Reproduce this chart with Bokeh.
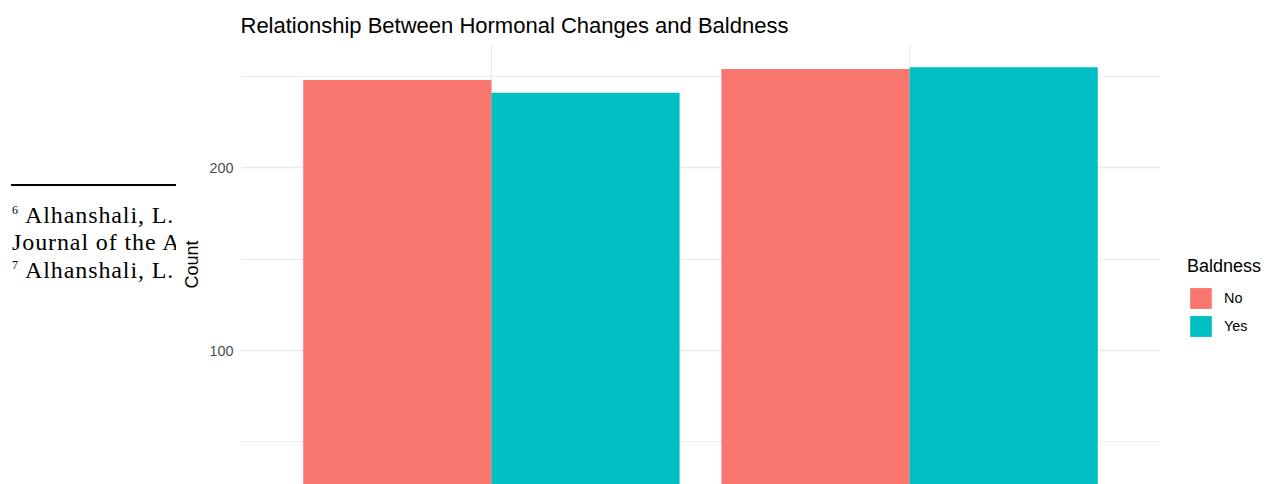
from bokeh.plotting import figure
from bokeh.layouts import row
from bokeh.models import (ColumnDataSource, Range1d, FixedTicker, Legend,
                          LegendItem, Div, BoxAnnotation)
from bokeh.transform import dodge
from bokeh.embed import file_html
from bokeh.resources import INLINE

# ---- data ----
hormonal = ["No", "Yes"]           # Hormonal changes (x categories)
baldness_no = [248, 254]           # Baldness = No
baldness_yes = [241, 255]          # Baldness = Yes
y_ticks = [0, 100, 200]
y_minor = [50, 150, 250]
footnotes = ["Alhanshali, L.", "Journal of the A", "Alhanshali, L."]
footnote_marks = ["6", "7"]

RED = "#F8766D"
TEAL = "#00BFC4"

# ---- background document (footnotes partly covered by the chart) ----
serif = "font-family:'Liberation Serif',serif;color:#000;white-space:nowrap;position:absolute;"
line_style = serif + "font-size:24px;line-height:24px;letter-spacing:0.9px;"
mark_style = serif + "font-size:12px;line-height:12px;"
doc_html = (
    "<div style='position:relative;width:176px;height:484px;overflow:hidden;background:#fff;'>"
    "<div style='position:absolute;left:11px;top:183.5px;width:166px;height:2px;background:#000;'></div>"
    f"<div style=\"{mark_style}left:12px;top:204.2px;\">{footnote_marks[0]}</div>"
    f"<div style=\"{line_style}left:25px;top:202.6px;\">{footnotes[0]}</div>"
    f"<div style=\"{line_style}left:12px;top:229.9px;\">{footnotes[1]}</div>"
    f"<div style=\"{mark_style}left:12px;top:259.2px;\">{footnote_marks[1]}</div>"
    f"<div style=\"{line_style}left:25px;top:257.6px;\">{footnotes[2]}</div>"
    "</div>"
)
doc = Div(text=doc_html, width=176, height=484, margin=0)

# ---- chart ----
x_pos = [i + 1 for i in range(len(hormonal))]   # category positions
src = ColumnDataSource(dict(x=x_pos, hormonal=hormonal,
                            no=baldness_no, yes=baldness_yes))

# panel spans the categories with ggplot's 0.6 expansion; the frame extends to
# the right edge so the legend can sit in it
p = figure(width=1096, height=484, output_backend="svg", toolbar_location=None,
           x_range=Range1d(0.4, 2.8678), y_range=Range1d(26.7, 267.4),
           min_border_left=64, min_border_right=0, min_border_top=44,
           min_border_bottom=0,
           title="Relationship Between Hormonal Changes and Baldness")

r_no = p.vbar(x=dodge("x", -0.225), top="no", bottom=0,
              width=0.45, source=src, fill_color=RED, line_color=None)
r_yes = p.vbar(x=dodge("x", 0.225), top="yes", bottom=0,
               width=0.45, source=src, fill_color=TEAL, line_color=None)

p.outline_line_color = None
p.background_fill_color = "white"
p.border_fill_color = "white"

# title
p.title.text_font = "Liberation Sans"
p.title.text_font_size = "22px"
p.title.text_font_style = "normal"
p.title.text_color = "#000000"
p.title.align = "left"
p.title.offset = 0
p.title.standoff = 14

# axes
p.xaxis.visible = False
p.xaxis.ticker = FixedTicker(ticks=x_pos)
p.yaxis.ticker = FixedTicker(ticks=y_ticks, minor_ticks=y_minor)
p.yaxis.axis_line_color = None
p.yaxis.major_tick_line_color = None
p.yaxis.minor_tick_line_color = None
p.yaxis.major_tick_out = 0
p.yaxis.minor_tick_out = 0
p.yaxis.major_label_standoff = 7
p.yaxis.major_label_text_font = "Liberation Sans"
p.yaxis.major_label_text_font_size = "14.4px"
p.yaxis.major_label_text_color = "#4D4D4D"
p.yaxis.axis_label = "Count"
p.yaxis.axis_label_text_font = "Liberation Sans"
p.yaxis.axis_label_text_font_size = "18px"
p.yaxis.axis_label_text_font_style = "normal"
p.yaxis.axis_label_text_color = "#000000"
p.yaxis.axis_label_standoff = 4

# grids
p.xgrid.ticker = FixedTicker(ticks=x_pos)
p.xgrid.grid_line_color = "#EBEBEB"
p.xgrid.grid_line_width = 1.3
p.ygrid.grid_line_color = "#EBEBEB"
p.ygrid.grid_line_width = 1.3
p.ygrid.minor_grid_line_color = "#EEEEEE"
p.ygrid.minor_grid_line_width = 1

# blank area right of the panel (legend zone): hide grid lines there
p.add_layout(BoxAnnotation(left=2.6, fill_color="white", fill_alpha=1,
                           line_color=None))

# legend (right of the panel)
lg = Legend(items=[LegendItem(label="No", renderers=[r_no]),
                   LegendItem(label="Yes", renderers=[r_yes])])
lg.title = "Baldness"
lg.title_text_font = "Liberation Sans"
lg.title_text_font_size = "18px"
lg.title_text_font_style = "normal"
lg.title_text_color = "#000000"
lg.title_standoff = 8
lg.label_text_font = "Liberation Sans"
lg.label_text_font_size = "14.4px"
lg.label_text_color = "#000000"
lg.glyph_width = 27
lg.glyph_height = 26
lg.label_height = 26
lg.label_standoff = 10
lg.spacing = 2
lg.padding = 0
lg.margin = 0
lg.border_line_color = None
lg.background_fill_alpha = 0
lg.location = (947, 145)
p.add_layout(lg)

layout = row(doc, p)
open("out.html", "w").write(file_html(layout, INLINE))
